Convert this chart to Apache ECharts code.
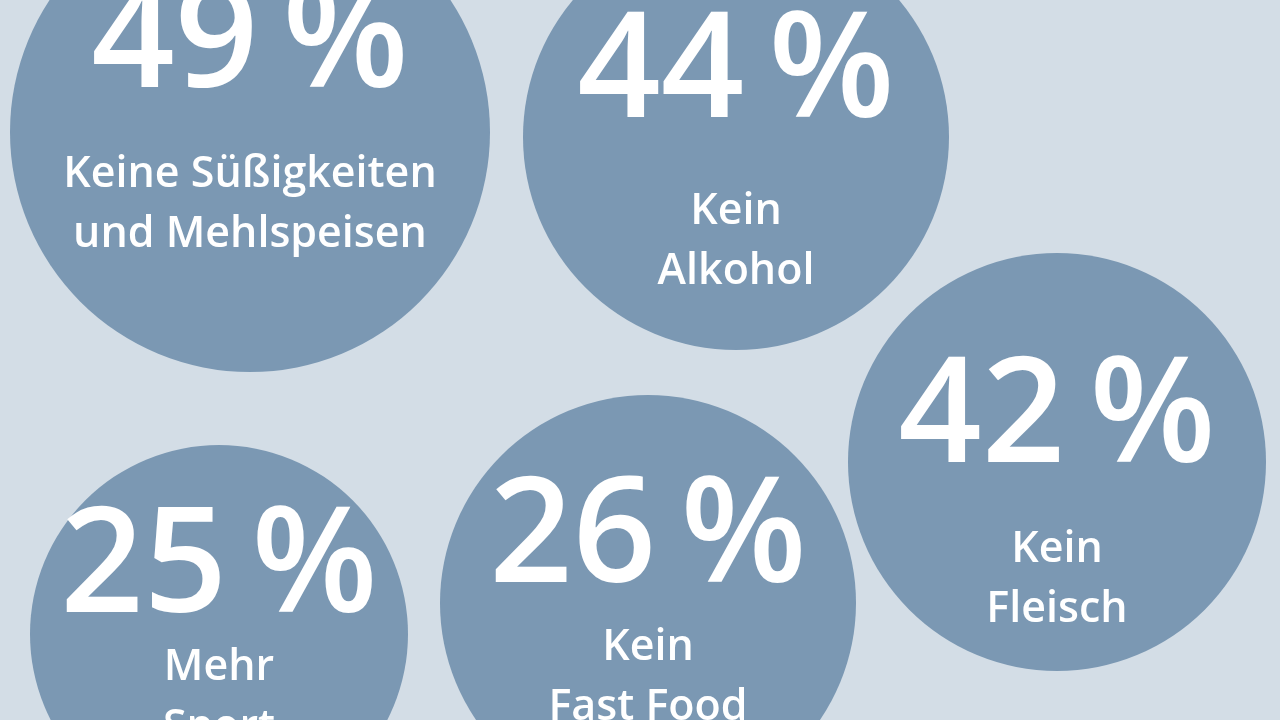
<!DOCTYPE html><html><head><meta charset="utf-8"><script src="https://cdn.jsdelivr.net/npm/echarts@6/dist/echarts.min.js"></script>
<style>html,body{margin:0;background:#d3dde6}#c{width:1280px;height:720px}</style></head><body><div id="c"></div><script>
const percents=['49%','44%','42%','26%','25%'];
const labels=['Keine Süßigkeiten\nund Mehlspeisen','Kein\nAlkohol','Kein\nFleisch','Kein\nFast Food','Mehr\nSport'];
const xs=[250,736,1057,648,219];
const ys=[132,137,462,603,634];
const sizes=[480,426,418,416,378];
const pLine=[200,214,200,156,136];
const offs=[-27,-2,18,-3,-4];
const chart=echarts.init(document.getElementById('c'));
chart.setOption({backgroundColor:'#d3dde6',animation:false,
grid:{left:0,right:0,top:0,bottom:0},
xAxis:{type:'value',min:0,max:1280,show:false},
yAxis:{type:'value',min:0,max:720,inverse:true,show:false},
series:[{type:'scatter',itemStyle:{color:'#7b98b3',opacity:1},
data:percents.map((p,i)=>({value:[xs[i],ys[i]],symbolSize:sizes[i],
label:{show:true,position:'inside',offset:[0,offs[i]],align:'center',
formatter:'{p|'+p.replace('%','\u2009%')+'}\n'+labels[i].split('\n').map(t=>'{t|'+t+'}').join('\n'),
rich:{p:{fontSize:146,fontFamily:'Open Sans',fontWeight:600,color:'#fff',lineHeight:pLine[i],align:'center'},
t:{fontSize:43,fontFamily:'Open Sans',fontWeight:600,color:'#fff',lineHeight:60,align:'center'}}}}))}]});
</script></body></html>
